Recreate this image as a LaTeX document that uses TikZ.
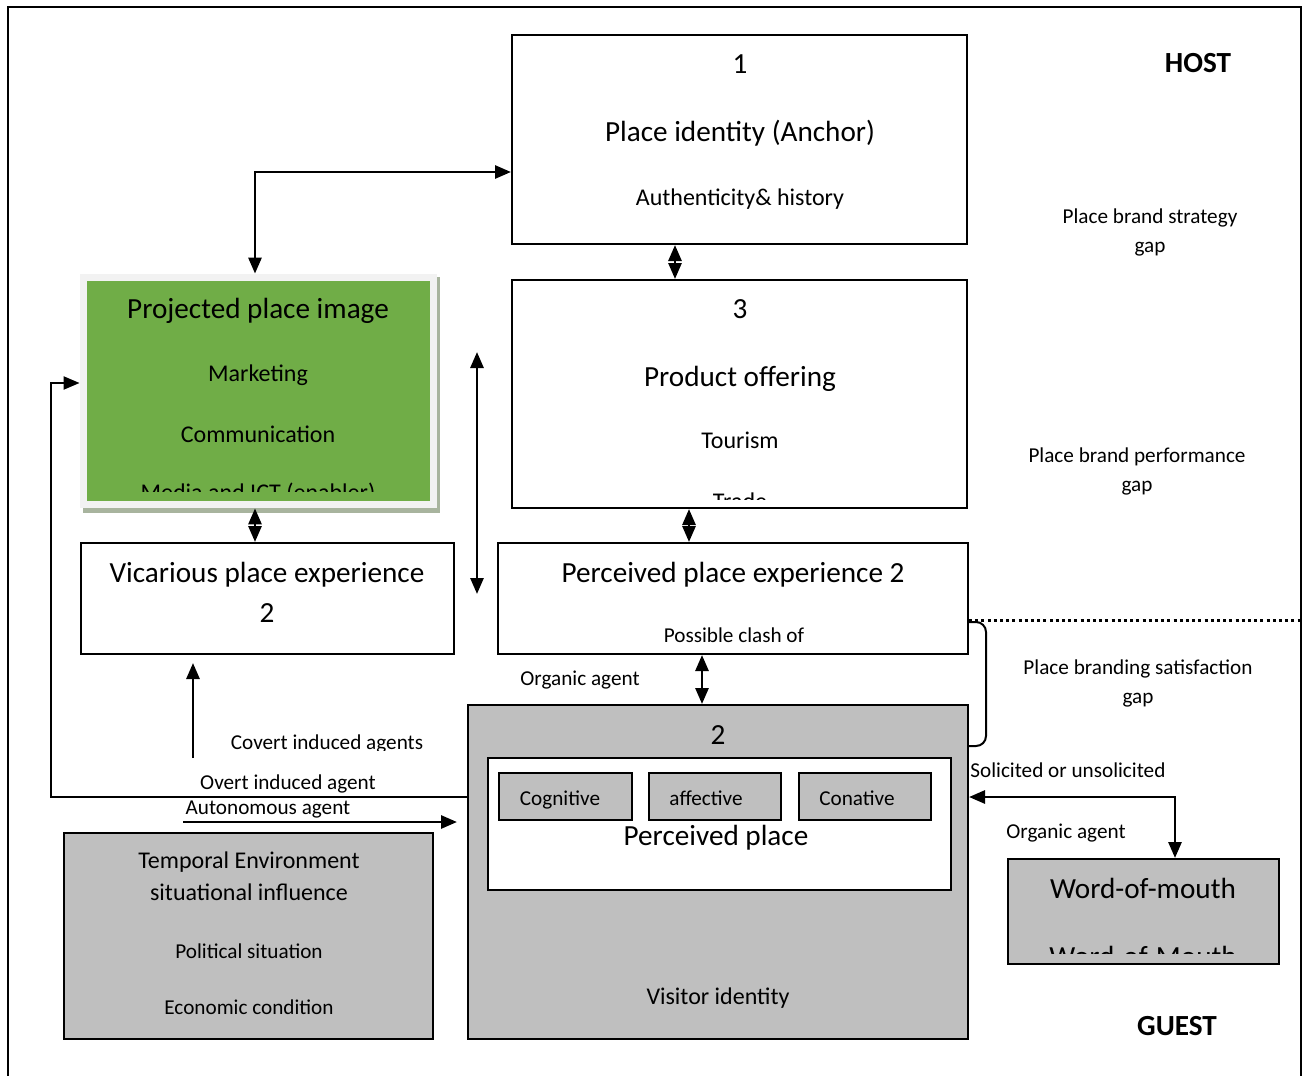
\documentclass[tikz,border=0pt]{standalone}
\usepackage{fontspec}
\setmainfont{Carlito}
\usetikzlibrary{arrows.meta,fit}
\definecolor{boxgrey}{HTML}{BFBFBF}
\definecolor{imggreen}{HTML}{70AD47}
\definecolor{imgrim}{HTML}{F2F2F2}
\definecolor{imgshadow}{HTML}{A8B49E}
\newcommand{\sizeL}{\fontsize{14.6}{17}\selectfont}
\newcommand{\sizeM}{\fontsize{12}{14}\selectfont}
\newcommand{\sizeS}{\fontsize{10.6}{13}\selectfont}
\tikzstyle{block}=[draw,line width=1pt,inner sep=0pt]
\tikzstyle{greyblock}=[block,fill=boxgrey]
\tikzstyle{txt}=[anchor=base,inner sep=0pt]
\tikzstyle{link}=[line width=1.4pt]

\begin{document}
\begin{tikzpicture}[x=0.5pt,y=-0.5pt,>={Triangle[length=8pt,width=6.5pt]}]
  \useasboundingbox (0,0) rectangle (1307,1076);
  \draw[line width=1.2pt] (8,1076) -- (8,7) -- (1301,7) -- (1301,1076);

  \node (ident) [block,fit={(512,35) (967,244)}] {};
  \node (offer) [block,fit={(512,280) (967,508)}] {};
  \node (shadow) [fill=imgshadow,inner sep=0pt,fit={(83,277) (440,513)}] {};
  \node (projo) [fill=imgrim,inner sep=0pt,fit={(80,274) (437,508)}] {};
  \node (proj) [fill=imggreen,inner sep=0pt,fit={(87,281) (430,501)}] {};
  \node (vic) [block,fit={(81,543) (454,654)}] {};
  \node (perc) [block,fit={(498,543) (968,654)}] {};
  \node (visitor) [greyblock,fit={(468,705) (968,1039)}] {};
  \node (inner) [block,fill=white,fit={(488,758) (951,890)}] {};
  \node (cog) [greyblock,fit={(499,773) (632,820)}] {};
  \node (aff) [greyblock,fit={(649,773) (781,820)}] {};
  \node (con) [greyblock,fit={(799,773) (931,820)}] {};
  \node (temp) [greyblock,fit={(64,833) (433,1039)}] {};
  \node (wom) [greyblock,fit={(1008,859) (1279,964)}] {};

  \node (identnum) [txt] at (740,73) {\sizeL 1};
  \node (identtitle) [txt] at (740,141) {\sizeL Place identity (Anchor)};
  \node (identsub) [txt] at (740,205) {\sizeM Authenticity\& history};
  \node (offernum) [txt] at (740,318) {\sizeL 3};
  \node (offertitle) [txt] at (740,386) {\sizeL Product offering};
  \node (offersub) [txt] at (740,448) {\sizeM Tourism};
  \begin{scope}
    \clip (512,280) rectangle (967,499);
    \node (offertrade) [txt] at (740,509) {\sizeM Trade};
  \end{scope}
  \node (projtitle) [txt] at (258,318) {\sizeL Projected place image};
  \node (projmkt) [txt] at (258,381) {\sizeM Marketing};
  \node (projcom) [txt] at (258,442) {\sizeM Communication};
  \begin{scope}
    \clip (87,281) rectangle (430,491);
    \node (projmedia) [txt] at (258,500) {\sizeM Media and ICT (enabler)};
  \end{scope}
  \node (victitle) [txt] at (267,582) {\sizeL Vicarious place experience};
  \node (vicnum) [txt] at (267,622) {\sizeL 2};
  \node (perctitle) [txt] at (733,582) {\sizeL Perceived place experience 2};
  \node (percsub) [txt] at (734,642) {\sizeS Possible clash of};
  \node (visnum) [txt] at (718,744) {\sizeL 2};
  \node (cogtxt) [txt] at (560,805) {\sizeS Cognitive};
  \node (afftxt) [txt] at (706,805) {\sizeS affective};
  \node (contxt) [txt] at (857,805) {\sizeS Conative};
  \node (innertxt) [txt] at (716,845) {\sizeL Perceived place};
  \node (vistxt) [txt] at (718,1004) {\sizeM Visitor identity};
  \node (temp1) [txt] at (249,868) {\sizeM Temporal Environment};
  \node (temp2) [txt] at (249,900) {\sizeM situational influence};
  \node (temp3) [txt] at (249,958) {\sizeS Political situation};
  \node (temp4) [txt] at (249,1014) {\sizeS Economic condition};
  \node (womtitle) [txt] at (1143,898) {\sizeL Word-of-mouth};
  \begin{scope}
    \clip (1008,859) rectangle (1279,953);
    \node (womsub) [txt] at (1143,966) {\sizeL Word-of-Mouth};
  \end{scope}
  \node (host) [txt] at (1198,72) {\sizeL\bfseries HOST};
  \node (guest) [txt] at (1177,1035) {\sizeL\bfseries GUEST};
  \node (gap1) [txt] at (1150,223) {\sizeS Place brand strategy};
  \node (gap1b) [txt] at (1150,252) {\sizeS gap};
  \node (gap2) [txt] at (1137,462) {\sizeS Place brand performance};
  \node (gap2b) [txt] at (1137,491) {\sizeS gap};
  \node (gap3) [txt] at (1138,674) {\sizeS Place branding satisfaction};
  \node (gap3b) [txt] at (1138,703) {\sizeS gap};
  \node (organic1) [txt] at (580,685) {\sizeS Organic agent};
  \begin{scope}
    \clip (150,700) rectangle (460,750);
    \node (covert) [txt] at (327,749) {\sizeS Covert induced agents};
  \end{scope}
  \node (overt) [txt] at (288,789) {\sizeS Overt induced agent};
  \node (autonomous) [txt] at (268,814) {\sizeS Autonomous agent};
  \node (solicited) [txt,anchor=base west] at (970,777) {\sizeS Solicited or unsolicited};
  \node (organic2) [txt] at (1066,838) {\sizeS Organic agent};

  \coordinate (c1) at (255,172);
  \coordinate (c2) at (675,0);
  \coordinate (c3) at (689,0);
  \coordinate (c4) at (702,0);
  \coordinate (l1) at (477,352);
  \coordinate (l2) at (477,594);
  \coordinate (up) at (193,758);
  \coordinate (back1) at (51,797);
  \coordinate (back2) at (51,383);
  \coordinate (auto) at (183,822);
  \coordinate (wordl) at (1175,797);
  \coordinate (dotend) at (1301,620);
  \coordinate (br1) at (968,622);
  \coordinate (br2) at (986,622);
  \coordinate (br3) at (986,746);
  \coordinate (br4) at (968,746);

  \draw[link,<->] (projo.north -| c1) |- (ident.west |- c1);
  \draw[link,<->] (ident.south -| c2) -- (offer.north -| c2);
  \draw[link,<->] (offer.south -| c3) -- (perc.north -| c3);
  \draw[link,<->] (projo.south -| c1) -- (vic.north -| c1);
  \draw[link,<->] (l1) -- (l2);
  \draw[link,<->] (perc.south -| c4) -- (visitor.north -| c4);
  \draw[link,->,shorten >=4pt] (up) -- (vic.south -| up);
  \draw[line width=1pt,->] (visitor.west |- back1) -| (back2) -- (projo.west |- back2);
  \draw[link,->,shorten >=5pt] (auto) -- (visitor.west |- auto);
  \draw[link,<->] (visitor.east |- wordl) -| (wom.north -| wordl);
  \draw[line width=1.5pt,dash pattern=on 1.5pt off 1.6pt] (perc.east |- dotend) -- (dotend);
  \draw[line width=1pt,rounded corners=5pt] (br1) -- (br2) -- (br3) -- (br4);
\end{tikzpicture}
\end{document}
